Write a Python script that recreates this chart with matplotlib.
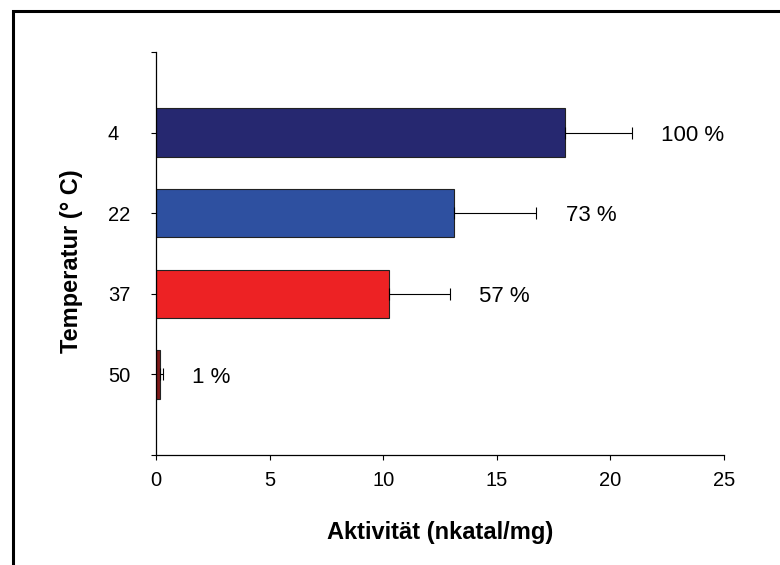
import matplotlib
matplotlib.use("Agg")
import matplotlib.pyplot as plt
from matplotlib.patches import Rectangle

plt.rcParams['font.family'] = ['Liberation Sans', 'DejaVu Sans']

temps = ['4', '22', '37', '50']
activity = [18.0, 13.1, 10.25, 0.18]
errors = [2.95, 3.65, 2.7, 0.14]
percent = ['100 %', '73 %', '57 %', '1 %']
colors = ['#262870', '#2E50A0', '#ED2224', '#7F1A1A']

fig = plt.figure(figsize=(7.8, 5.65), dpi=100)
ax = fig.add_axes([0.2, 0.1947, 0.728, 0.7133])

pos = [1, 2, 3, 4]
ax.barh(pos, activity, height=0.6, color=colors, edgecolor='#222222', linewidth=0.8,
        xerr=[[0] * len(errors), errors],
        error_kw=dict(ecolor='black', elinewidth=0.8, capsize=4.5, capthick=0.8))

for p, a, e, txt in zip(pos, activity, errors, percent):
    ax.annotate(txt, xy=(a + e, p), xytext=(21, -2), textcoords='offset points',
                ha='left', va='center', fontsize=16)

ax.set_xlim(0, 25)
ax.set_ylim(5, 0)
ax.set_xticks([0, 5, 10, 15, 20, 25])
ax.set_yticks([0, 1, 2, 3, 4, 5])
ax.set_yticklabels([''] + temps + [''])
for lab in ax.get_yticklabels():
    lab.set_horizontalalignment('left')

ax.spines['top'].set_visible(False)
ax.spines['right'].set_visible(False)
ax.spines['left'].set_linewidth(0.9)
ax.spines['bottom'].set_linewidth(0.9)
ax.tick_params(axis='x', direction='out', length=3.6, width=0.8, labelsize=14.5, pad=8)
ax.tick_params(axis='y', direction='out', length=3.6, width=0.8, labelsize=14.5, pad=31)

ax.set_xlabel('Aktivität (nkatal/mg)', fontsize=17, fontweight='bold')
ax.set_ylabel('Temperatur (° C)', fontsize=17, fontweight='bold')
ax.xaxis.set_label_coords(0.5, -0.165)
ax.yaxis.set_label_coords(-0.128, 0.481)

# outer frame around the chart area
fig.patches.append(Rectangle((13 / 780, -0.1), 1.2, 1.1 - 11 / 565, transform=fig.transFigure,
                             fill=False, edgecolor='black', linewidth=2.2, clip_on=False))

fig.savefig('out.png', dpi=100)
